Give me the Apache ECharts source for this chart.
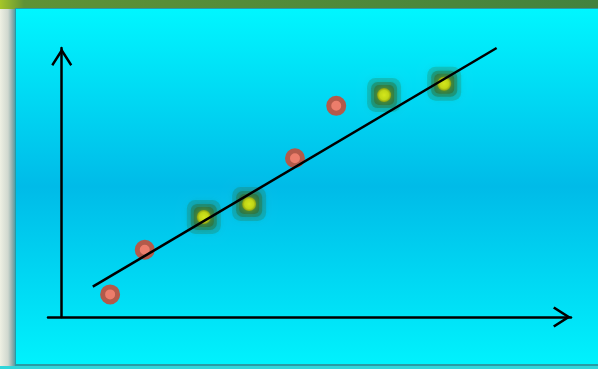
<!DOCTYPE html>
<html>
<head>
<meta charset="utf-8">
<script src="https://cdn.jsdelivr.net/npm/echarts@6/dist/echarts.min.js"></script>
<style>
  html, body { margin: 0; padding: 0; background: #e8ebdf; }
  #chart { width: 598px; height: 369px; }
</style>
</head>
<body>
<div id="chart"></div>
<script>
// Observations in two groups, plus the fitted trend line.
var redX = [0.95, 1.63, 4.58, 5.39];
var redY = [0.84, 2.5, 5.9, 7.85];
var greenX = [2.79, 3.68, 6.33, 7.51];
var greenY = [3.72, 4.2, 8.25, 8.67];
var trendX = [0.61, 8.54];
var trendY = [1.13, 10.0];

function pairs(xs, ys) {
  return xs.map(function (x, i) { return [x, ys[i]]; });
}

// Open chevron used as the arrow head at the end of each axis line.
var chevron = 'path://M10.5,0 L21,16.5 L19,18 L10.5,4.7 L2,18 L0,16.5 Z';

var axisLine = {
  show: true,
  onZero: true,
  symbol: ['none', chevron],
  symbolSize: [21, 18],
  symbolOffset: [0, -9],
  lineStyle: { color: '#000', width: 2.5 }
};

// Layered translucent halo drawn behind each green point.
function halo(symbol, size, alpha, blur) {
  return {
    type: 'scatter',
    data: pairs(greenX, greenY),
    symbol: symbol,
    symbolSize: size,
    silent: true,
    itemStyle: {
      color: 'rgba(50, 96, 30, ' + alpha + ')',
      opacity: 1,
      shadowColor: 'rgba(50, 96, 30, ' + alpha + ')',
      shadowBlur: blur
    },
    z: 1
  };
}

var chart = echarts.init(document.getElementById('chart'));
chart.setOption({
  animation: false,
  backgroundColor: '#e8ebdf',
  graphic: [
    {
      type: 'rect', z: -20, silent: true,
      shape: { x: 0, y: 0, width: 16, height: 369 },
      style: {
        fill: new echarts.graphic.LinearGradient(0, 0, 1, 0, [
          { offset: 0, color: '#eef0e3' },
          { offset: 0.5, color: '#d0d8cf' },
          { offset: 0.8, color: '#86aaa9' },
          { offset: 1, color: '#3a9aa8' }
        ])
      }
    },
    {
      type: 'rect', z: -20, silent: true,
      shape: { x: 0, y: 0, width: 598, height: 9 },
      style: {
        fill: new echarts.graphic.LinearGradient(0, 0, 1, 0, [
          { offset: 0, color: '#a6c62a' },
          { offset: 0.04, color: '#5f9236' },
          { offset: 1, color: '#43823e' }
        ])
      }
    },
    {
      type: 'rect', z: -19, silent: true,
      shape: { x: 15, y: 8, width: 583, height: 358 },
      style: { fill: '#2a9aa4' }
    },
    {
      type: 'rect', z: -18, silent: true,
      shape: { x: 16, y: 9, width: 582, height: 355 },
      style: {
        fill: new echarts.graphic.LinearGradient(0, 0, 0, 1, [
          { offset: 0, color: '#00f6ff' },
          { offset: 0.5, color: '#00bbe8' },
          { offset: 1, color: '#00f2fd' }
        ])
      }
    },
    {
      type: 'rect', z: -20, silent: true,
      shape: { x: 0, y: 366, width: 598, height: 3 },
      style: { fill: '#30d6da' }
    }
  ],
  grid: {
    left: 48, right: 27, top: 48, bottom: 52,
    outerBoundsMode: 'none'
  },
  xAxis: {
    type: 'value', min: -0.27, max: 10,
    axisLine: axisLine,
    axisTick: { show: false },
    axisLabel: { show: false },
    splitLine: { show: false }
  },
  yAxis: {
    type: 'value', min: 0, max: 10,
    axisLine: axisLine,
    axisTick: { show: false },
    axisLabel: { show: false },
    splitLine: { show: false }
  },
  series: [
    halo('roundRect', 34, 0.22, 10),
    halo('roundRect', 26, 0.35, 8),
    halo('roundRect', 20, 0.45, 6),
    {
      type: 'scatter',
      data: pairs(redX, redY),
      symbol: 'circle',
      symbolSize: 15,
      itemStyle: { color: '#ec7d6b', borderColor: '#b35a4a', borderWidth: 5, opacity: 1 },
      z: 2
    },
    {
      type: 'scatter',
      data: pairs(greenX, greenY),
      symbol: 'circle',
      symbolSize: 14,
      itemStyle: {
        opacity: 1,
        color: new echarts.graphic.RadialGradient(0.5, 0.5, 0.5, [
          { offset: 0, color: '#d4e61c' },
          { offset: 0.65, color: '#c0d616' },
          { offset: 1, color: '#8a9e12' }
        ]),
        shadowColor: 'rgba(150, 180, 20, 0.7)',
        shadowBlur: 6
      },
      z: 2
    },
    {
      type: 'line',
      data: pairs(trendX, trendY),
      showSymbol: false,
      symbol: 'none',
      clip: false,
      lineStyle: { color: '#000', width: 2.5 },
      z: 3
    }
  ]
});
</script>
</body>
</html>
